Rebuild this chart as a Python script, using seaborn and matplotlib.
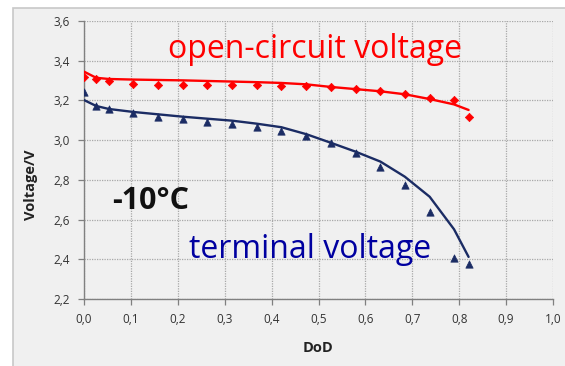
import matplotlib
matplotlib.use("Agg")
import matplotlib.pyplot as plt
import seaborn as sns
import pandas as pd
from matplotlib.patches import Rectangle

# ---- data ----
dod_points = [0.0, 0.026, 0.053, 0.105, 0.158, 0.211, 0.263, 0.316, 0.368,
              0.421, 0.474, 0.526, 0.579, 0.632, 0.684, 0.737, 0.789, 0.82]
ocv_measured = [3.32, 3.306, 3.296, 3.283, 3.278, 3.278, 3.278, 3.276, 3.276,
                3.274, 3.271, 3.268, 3.259, 3.249, 3.232, 3.214, 3.202, 3.115]
terminal_measured = [3.244, 3.172, 3.158, 3.135, 3.118, 3.107, 3.093, 3.083, 3.068,
                     3.046, 3.021, 2.985, 2.934, 2.863, 2.772, 2.636, 2.404, 2.378]

dod_model = [0.0, 0.026, 0.053, 0.105, 0.158, 0.211, 0.263, 0.316, 0.368,
             0.421, 0.474, 0.526, 0.579, 0.632, 0.684, 0.737, 0.789, 0.82]
ocv_model = [3.345, 3.314, 3.308, 3.305, 3.303, 3.301, 3.298, 3.295, 3.292,
             3.288, 3.281, 3.268, 3.257, 3.246, 3.231, 3.207, 3.18, 3.152]
terminal_model = [3.202, 3.172, 3.157, 3.142, 3.13, 3.118, 3.108, 3.098, 3.083,
                  3.065, 3.03, 2.987, 2.942, 2.892, 2.816, 2.715, 2.551, 2.412]

x_ticks = [0.0, 0.1, 0.2, 0.3, 0.4, 0.5, 0.6, 0.7, 0.8, 0.9, 1.0]
y_ticks = [2.2, 2.4, 2.6, 2.8, 3.0, 3.2, 3.4, 3.6]

sns.set_theme(style="white")
plt.rcParams["font.family"] = ["Open Sans", "DejaVu Sans"]

meas = pd.DataFrame({"DoD": dod_points, "ocv": ocv_measured, "term": terminal_measured})
model = pd.DataFrame({"DoD": dod_model, "ocv": ocv_model, "term": terminal_model})

fig = plt.figure(figsize=(5.65, 3.66), dpi=100, facecolor="white")
# grey chart panel
panel = Rectangle((13 / 565, -0.01), 1 - 13 / 565 + 0.01, (366 - 8) / 366 + 0.01,
                  transform=fig.transFigure, facecolor="#f0f0f0",
                  edgecolor="#c8c8c8", linewidth=1.2, zorder=-10)
fig.patches.append(panel)
ax = fig.add_axes([84 / 565, (366 - 299) / 366, (553 - 84) / 565, (299 - 21) / 366])
ax.set_facecolor("#f0f0f0")

red = "#ff0000"
navy = "#1b2c64"

sns.lineplot(data=model, x="DoD", y="ocv", ax=ax, color=red, linewidth=1.7, zorder=3)
sns.lineplot(data=model, x="DoD", y="term", ax=ax, color=navy, linewidth=1.7, zorder=3)
sns.scatterplot(data=meas, x="DoD", y="ocv", ax=ax, marker="D", color=red, s=18,
                edgecolor=red, linewidth=0.5, zorder=4)
sns.scatterplot(data=meas, x="DoD", y="term", ax=ax, marker="^", color=navy, s=28,
                edgecolor=navy, linewidth=0.5, zorder=4)

ax.set_xlim(0, 1.0)
ax.set_ylim(2.2, 3.6)
ax.set_xticks(x_ticks)
ax.set_yticks(y_ticks)
ax.set_xticklabels([f"{v:.1f}".replace(".", ",") for v in x_ticks])
ax.set_yticklabels([f"{v:.1f}".replace(".", ",") for v in y_ticks])

ax.grid(True, color="#a8a8a8", linestyle=(0, (1, 1)), linewidth=0.9)
ax.set_axisbelow(True)
for side in ["top", "right"]:
    ax.spines[side].set_visible(False)
for side in ["left", "bottom"]:
    ax.spines[side].set_color("#808080")
    ax.spines[side].set_linewidth(1.0)

ax.tick_params(axis="both", which="major", direction="out", length=4.3, width=0.9,
               color="#808080", labelsize=8.5, labelcolor="#333333", pad=6,
               left=True, bottom=True)

ax.set_xlabel("DoD", fontsize=10.5, fontweight="bold", color="#222222")
ax.set_ylabel("Voltage/V", fontsize=10.5, fontweight="bold", color="#222222")
ax.xaxis.set_label_coords(0.5, -0.151)
ax.yaxis.set_label_coords(-0.098, 0.41)

ax.text(0.179, 3.414, "open-circuit voltage", color=red, fontsize=23,
        ha="left", va="baseline")
ax.text(0.224, 2.407, "terminal voltage", color="#0000a0", fontsize=23,
        ha="left", va="baseline")
ax.text(0.06, 2.652, "-10°C", color="#111111", fontsize=22, fontweight="bold",
        ha="left", va="baseline")

fig.savefig("out.png", dpi=100, facecolor=fig.get_facecolor())
